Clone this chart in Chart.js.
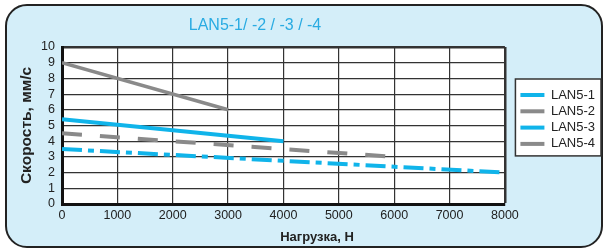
<!DOCTYPE html>
<html>
<head>
<meta charset="utf-8">
<script src="https://cdn.jsdelivr.net/npm/chart.js@4"></script>
<style>
  body { margin: 0; background: #fff; }
  #frame {
    position: absolute; left: 5px; top: 4px; width: 594px; height: 240px;
    border: 2px solid #222; border-radius: 22px; background: #d4eef9;
  }
  #chart { position: absolute; left: 0; top: 0; }
</style>
</head>
<body>
<div id="frame"></div>
<canvas id="chart" width="605" height="250"></canvas>
<script>
// values
const seriesNames = ['LAN5-1', 'LAN5-2', 'LAN5-3', 'LAN5-4'];
const lan1Load = [0, 8000];
const lan1Speed = [3.5, 2.0];
const lan2Load = [0, 6000];
const lan2Speed = [4.5, 3.0];
const lan3Load = [0, 4000];
const lan3Speed = [5.4, 4.0];
const lan4Load = [0, 3000];
const lan4Speed = [9, 6];

const blue = '#10b4ea';
const grey = '#8a8a8a';
const fontFamily = '"Liberation Sans", Arial, sans-serif';

function points(xs, ys) {
  return xs.map((x, i) => ({ x: x, y: ys[i] }));
}

// chart title and x axis title sit off-centre in the reference, so draw them here
const extraText = {
  id: 'extraText',
  beforeDraw(chart) {
    const ctx = chart.ctx;
    ctx.save();
    ctx.textAlign = 'center';
    ctx.textBaseline = 'middle';
    ctx.fillStyle = '#29abe2';
    ctx.font = '16px ' + fontFamily;
    ctx.fillText('LAN5-1/ -2 / -3 / -4', 255, 26);
    ctx.fillStyle = '#222';
    ctx.font = 'bold 13px ' + fontFamily;
    ctx.fillText('Нагрузка, Н', 317, 237);

    // white plot area
    const a = chart.chartArea;
    ctx.fillStyle = '#fff';
    ctx.fillRect(a.left, a.top, a.right - a.left, a.bottom - a.top);

    // white box round the legend items
    const hb = chart.legend.legendHitBoxes;
    if (hb.length) {
      const first = hb[0], last = hb[hb.length - 1];
      const x0 = first.left - 5;
      const y0 = first.top - 9.5;
      const x1 = chart.width - 4;
      const y1 = last.top + last.height + 5.5;
      ctx.fillRect(x0, y0, x1 - x0, y1 - y0);
      ctx.strokeStyle = '#333';
      ctx.lineWidth = 1.5;
      ctx.strokeRect(x0, y0, x1 - x0, y1 - y0);
    }
    ctx.restore();
  }
};

const ctx = document.getElementById('chart');
new Chart(ctx, {
  type: 'line',
  data: {
    datasets: [
      { label: seriesNames[0], data: points(lan1Load, lan1Speed), borderColor: blue, backgroundColor: blue, borderWidth: 4, borderDash: [20, 6, 6, 6] },
      { label: seriesNames[1], data: points(lan2Load, lan2Speed), borderColor: grey, backgroundColor: grey, borderWidth: 4, borderDash: [20, 18] },
      { label: seriesNames[2], data: points(lan3Load, lan3Speed), borderColor: blue, backgroundColor: blue, borderWidth: 4 },
      { label: seriesNames[3], data: points(lan4Load, lan4Speed), borderColor: grey, backgroundColor: grey, borderWidth: 3.5 }
    ]
  },
  options: {
    responsive: false,
    animation: false,
    layout: { padding: { top: 47, left: 12, right: 0, bottom: 0 } },
    elements: { point: { radius: 0 }, line: { tension: 0, borderCapStyle: 'butt' } },
    plugins: {
      title: { display: false },
      tooltip: { enabled: false },
      legend: {
        position: 'right',
        fullSize: false,
        align: 'start',
        // empty title only pushes the items down to where the reference has them
        title: { display: true, text: '', font: { size: 10 }, padding: { top: 26.2, bottom: 0 } },
        labels: {
          color: '#222',
          font: { family: fontFamily, size: 13 },
          boxWidth: 24,
          boxHeight: 4,
          padding: 3.3,
          generateLabels(chart) {
            const items = Chart.defaults.plugins.legend.labels.generateLabels(chart);
            return items.map(it => Object.assign(it, { lineWidth: 0, lineDash: [] }));
          }
        }
      }
    },
    scales: {
      x: {
        type: 'linear',
        min: 0,
        max: 8000,
        afterFit(s) { s.height = 46; },
        ticks: {
          stepSize: 1000,
          autoSkip: false,
          maxRotation: 0,
          color: '#222',
          padding: 4,
          font: { family: fontFamily, size: 12.5 },
          callback: v => String(v)
        },
        grid: {
          drawTicks: false,
          color: '#333',
          lineWidth: c => (c.index === 8 ? 2.5 : 1.2)
        },
        border: { color: '#111', width: 3 }
      },
      y: {
        min: 0,
        max: 10,
        afterFit(s) { s.width = 50; },
        ticks: { stepSize: 1, autoSkip: false, color: '#222', padding: 7, font: { family: fontFamily, size: 12.5 } },
        grid: {
          drawTicks: false,
          color: '#333',
          lineWidth: c => (c.index === 10 ? 2.5 : 1.2)
        },
        border: { color: '#111', width: 3 },
        title: {
          display: true,
          text: 'Скорость, мм/с',
          color: '#222',
          padding: { top: 5.2, bottom: 0 },
          font: { family: fontFamily, size: 15.5, weight: 'bold' }
        }
      },
      // empty right axis: keeps the gap between the plot and the legend box
      gap: {
        type: 'linear',
        position: 'right',
        display: true,
        afterFit(s) { s.width = 12.2; },
        ticks: { display: false },
        grid: { display: false, drawTicks: false },
        border: { display: false }
      }
    }
  },
  plugins: [extraText]
});
</script>
</body>
</html>
